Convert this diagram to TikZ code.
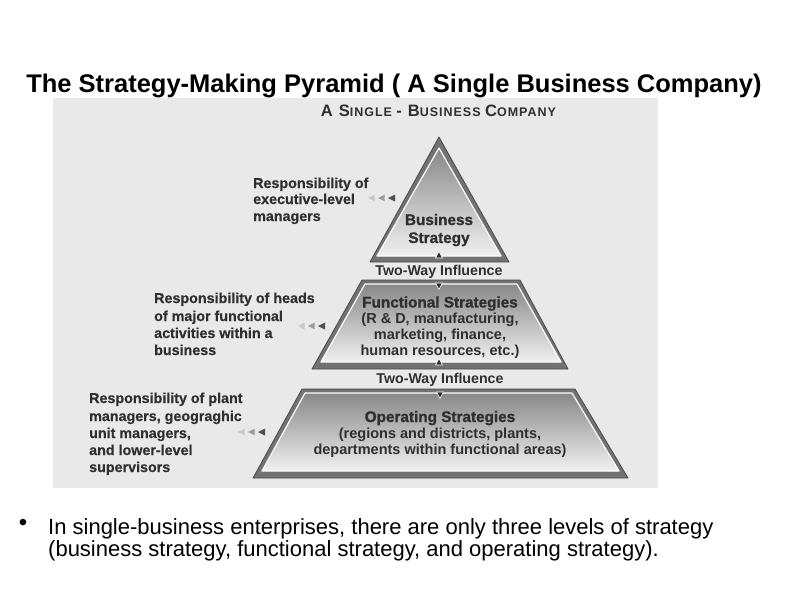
\documentclass[tikz,border=0pt]{standalone}
\usepackage{fontspec}
\setmainfont{Liberation Sans}
\definecolor{bgimg}{HTML}{E9E9E9}
\definecolor{framegray}{HTML}{727272}
\definecolor{frameedge}{HTML}{4A4A4A}
\definecolor{facetop}{HTML}{888888}
\definecolor{facebot}{HTML}{F0F0F0}
\definecolor{figtext}{HTML}{2F2F2F}
\definecolor{arrA}{HTML}{C8C8C8}
\definecolor{arrB}{HTML}{9A9A9A}
\definecolor{arrC}{HTML}{505050}
\begin{document}
\begin{tikzpicture}[x=1pt,y=-1pt,
  lbl/.style={font=\fontsize{14.3}{16.7}\selectfont\bfseries\addfontfeature{FakeBold=0.4}, text=figtext, inner sep=0pt, anchor=base west},
  ctr/.style={font=\fontsize{14.5}{16.7}\selectfont\bfseries, text=figtext, inner sep=0pt, anchor=base},
  head/.style={font=\fontsize{15.3}{17}\selectfont\bfseries\addfontfeature{FakeBold=1.2}, text=figtext, inner sep=0pt, anchor=base},
  infl/.style={font=\fontsize{14.2}{16}\selectfont\bfseries, text=figtext, inner sep=0pt, anchor=base},
  frame/.style={fill=framegray, draw=frameedge, line width=0.8pt, line join=round},
  face/.style={draw=white, line width=1.2pt, line join=round, top color=facetop, bottom color=facebot},
  mk/.style={fill=figtext, draw=white, line width=0.6pt},
  bul/.style={font=\fontsize{22}{22}\selectfont, text=black, inner sep=0pt, anchor=base west}
]
\useasboundingbox (0,0) rectangle (800,600);

% title
\node[font=\fontsize{25.5}{25.5}\selectfont\bfseries, inner sep=0pt, anchor=base] (title) at (394,92)
  {The Strategy-Making Pyramid ( A Single Business Company)};

% scanned figure background
\fill[bgimg] (53,98) rectangle (658,488);

% subheading
\node[font=\bfseries\addfontfeature{LetterSpace=8}, text=figtext, inner sep=0pt, anchor=base] (sub) at (438.5,116)
  {\fontsize{16.5}{16}\selectfont A S\fontsize{12.5}{12}\selectfont INGLE \fontsize{16.5}{16}\selectfont - B\fontsize{12.5}{12}\selectfont USINESS \fontsize{16.5}{16}\selectfont C\fontsize{12.5}{12}\selectfont OMPANY};

% top triangle
\path[frame] (439,137) -- (509,262) -- (370,262) -- cycle;
\path[face] (439,148) -- (501,256) -- (377,256) -- cycle;
\node[head] (bs1) at (439,225) {Business};
\node[head] (bs2) at (439,243) {Strategy};
\path[mk] (435.5,258) -- (442.5,258) -- (439,251.5) -- cycle;

\node[infl] (tw1) at (439,275) {Two-Way Influence};

% middle trapezoid
\path[frame] (362,280) -- (520,280) -- (568,369) -- (312,369) -- cycle;
\path[face] (365,284) -- (517,284) -- (561,362) -- (321,362) -- cycle;
\path[mk] (435.5,283) -- (442.5,283) -- (439,289.5) -- cycle;
\path[mk] (435.5,365) -- (442.5,365) -- (439,358.5) -- cycle;
\node[head] (fs1) at (440,307.5) {Functional Strategies};
\node[ctr] (fs2) at (440,323) {(R \& D, manufacturing,};
\node[ctr] (fs3) at (440,339) {marketing, finance,};
\node[ctr] (fs4) at (440,355) {human resources, etc.)};

\node[infl] (tw2) at (440,383) {Two-Way Influence};

% bottom trapezoid
\path[frame] (302,389) -- (575,389) -- (628,478) -- (253,478) -- cycle;
\path[face] (305,393) -- (572,393) -- (619,471) -- (262,471) -- cycle;
\path[mk] (436.5,392) -- (443.5,392) -- (440,398.5) -- cycle;
\node[head] (os1) at (440,422) {Operating Strategies};
\node[ctr] (os2) at (440,438) {(regions and districts, plants,};
\node[ctr] (os3) at (440,454.5) {departments within functional areas)};

% left labels
\node[lbl] (la1) at (253,188) {Responsibility of};
\node[lbl] (la2) at (253,204) {executive-level};
\node[lbl] (la3) at (253,221) {managers};

\node[lbl] (lb1) at (154,303) {Responsibility of heads};
\node[lbl] (lb2) at (154,321) {of major functional};
\node[lbl] (lb3) at (154,338) {activities within a};
\node[lbl] (lb4) at (154,355) {business};

\node[lbl] (lc1) at (89,403) {Responsibility of plant};
\node[lbl] (lc2) at (89,421) {managers, geograghic};
\node[lbl] (lc3) at (89,438) {unit managers,};
\node[lbl] (lc4) at (89,455) {and lower-level};
\node[lbl] (lc5) at (89,472) {supervisors};

% pointer arrows
\foreach \x/\y in {368/198, 298/326, 238/432}{
  \fill[arrA] (\x+6.5,\y-3.2) -- (\x+6.5,\y+3.2) -- (\x,\y) -- cycle;
  \fill[arrB] (\x+16.5,\y-3.2) -- (\x+16.5,\y+3.2) -- (\x+10,\y) -- cycle;
  \fill[arrC] (\x+27,\y-3.5) -- (\x+27,\y+3.5) -- (\x+20,\y) -- cycle;
}

% bullet
\node[font=\fontsize{24}{24}\selectfont, inner sep=0pt, anchor=base] (dot) at (23,530) {\textbullet};
\node[bul] (bt1) at (48,534) {In single-business enterprises, there are only three levels of strategy};
\node[bul] (bt2) at (48,556) {(business strategy, functional strategy, and operating strategy).};
\end{tikzpicture}
\end{document}
